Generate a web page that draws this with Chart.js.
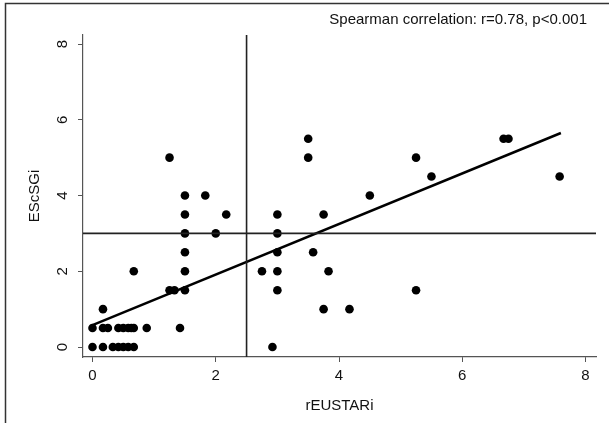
<!DOCTYPE html>
<html><head><meta charset="utf-8">
<script src="https://cdn.jsdelivr.net/npm/chart.js@4/dist/chart.umd.min.js"></script>
<style>html,body{margin:0;padding:0;background:#fff;} #wrap{width:609px;height:423px;position:relative;}</style>
</head><body><div id="wrap"><canvas id="c" width="609" height="423"></canvas></div>
<script>
const xTitle = 'rEUSTARi';
const yTitle = 'EScSGi';
const annotation = 'Spearman correlation: r=0.78, p<0.001';
const xTicks = [0, 2, 4, 6, 8];
const yTicks = [0, 2, 4, 6, 8];
const rEUSTARi = [0, 0.17, 0.33, 0.42, 0.5, 0.58, 0.67,
  0, 0.17, 0.25, 0.42, 0.5, 0.58, 0.63, 0.67, 0.88, 1.42,
  0.17, 0.67, 1.25, 1.33, 1.5, 1.5, 1.5, 1.5, 1.5, 1.5,
  1.25, 1.83, 2.17, 2.0, 2.75, 2.92,
  3.0, 3.0, 3.0, 3.0, 3.0,
  3.5, 3.5, 3.58, 3.75, 3.83, 3.75, 4.17,
  4.5, 5.25, 5.25, 5.5, 6.67, 6.75, 7.58];
const EScSGi = [0, 0, 0, 0, 0, 0, 0,
  0.5, 0.5, 0.5, 0.5, 0.5, 0.5, 0.5, 0.5, 0.5, 0.5,
  1.0, 2.0, 1.5, 1.5, 1.5, 2.0, 2.5, 3.0, 3.5, 4.0,
  5.0, 4.0, 3.5, 3.0, 2.0, 0,
  3.5, 3.0, 2.5, 2.0, 1.5,
  5.5, 5.0, 2.5, 3.5, 2.0, 1.0, 1.0,
  4.0, 5.0, 1.5, 4.5, 5.5, 5.5, 4.5];
const fitX = [0, 7.6];
const fitY = [0.58, 5.65];
const cutX = 2.5;
const cutY = 3;
const xRange = [-0.154, 8.17];
const yRange = [-0.264, 8.238];

const FONT = {family: '"Liberation Sans", Arial, sans-serif', size: 15};
const AXIS = '#555';

const extras = {
  id: 'extras',
  afterDraw(chart) {
    const ctx = chart.ctx;
    ctx.save();
    ctx.strokeStyle = '#333';
    ctx.lineWidth = 1.5;
    ctx.beginPath();
    ctx.moveTo(5.5, 423);
    ctx.lineTo(5.5, 3.5);
    ctx.lineTo(609, 3.5);
    ctx.stroke();
    ctx.fillStyle = '#111';
    ctx.font = '15px "Liberation Sans", Arial, sans-serif';
    ctx.textAlign = 'right';
    ctx.textBaseline = 'middle';
    ctx.fillText(annotation, 587, 20);
    ctx.restore();
  }
};

new Chart(document.getElementById('c'), {
  type: 'scatter',
  data: {
    datasets: [
      {
        label: 'cutX',
        data: [{x: cutX, y: yRange[0]}, {x: cutX, y: yRange[1]}],
        showLine: true, borderColor: '#222', borderWidth: 1.6, pointRadius: 0
      },
      {
        label: 'cutY',
        data: [{x: xRange[0], y: cutY}, {x: xRange[1], y: cutY}],
        showLine: true, borderColor: '#222', borderWidth: 1.6, pointRadius: 0
      },
      {
        label: 'fit',
        data: fitX.map((x, i) => ({x, y: fitY[i]})),
        showLine: true, borderColor: '#000', borderWidth: 2.5, pointRadius: 0
      },
      {
        label: 'patients',
        data: rEUSTARi.map((x, i) => ({x, y: EScSGi[i]})),
        pointRadius: 4.3, pointBackgroundColor: '#000', pointBorderWidth: 0,
        backgroundColor: '#000', borderColor: '#000'
      }
    ]
  },
  options: {
    responsive: false,
    animation: false,
    devicePixelRatio: 1,
    layout: {padding: {top: 35, right: 13, left: 0, bottom: 0}},
    plugins: {legend: {display: false}, tooltip: {enabled: false}},
    scales: {
      x: {
        type: 'linear', min: xRange[0], max: xRange[1],
        afterBuildTicks: s => { s.ticks = xTicks.map(v => ({value: v})); },
        afterFit: s => { s.height = 66; },
        grid: {drawOnChartArea: false, drawTicks: true, tickLength: 5, color: AXIS, lineWidth: 1},
        border: {display: true, color: AXIS, width: 1.2},
        ticks: {font: FONT, color: '#111', padding: 5, maxRotation: 0, minRotation: 0},
        title: {display: true, text: xTitle, font: FONT, color: '#111', padding: {top: 0, bottom: 8}}
      },
      y: {
        type: 'linear', min: yRange[0], max: yRange[1],
        afterBuildTicks: s => { s.ticks = yTicks.map(v => ({value: v})); },
        afterFit: s => { s.width = 83; },
        grid: {drawOnChartArea: false, drawTicks: true, tickLength: 5, color: AXIS, lineWidth: 1},
        border: {display: true, color: AXIS, width: 1.2},
        ticks: {font: FONT, color: '#111', padding: 11, minRotation: 90, maxRotation: 90, crossAlign: 'center'},
        title: {display: true, text: yTitle, font: FONT, color: '#111', padding: {top: 26, bottom: 0}}
      }
    }
  },
  plugins: [extras]
});
</script>
</body></html>
